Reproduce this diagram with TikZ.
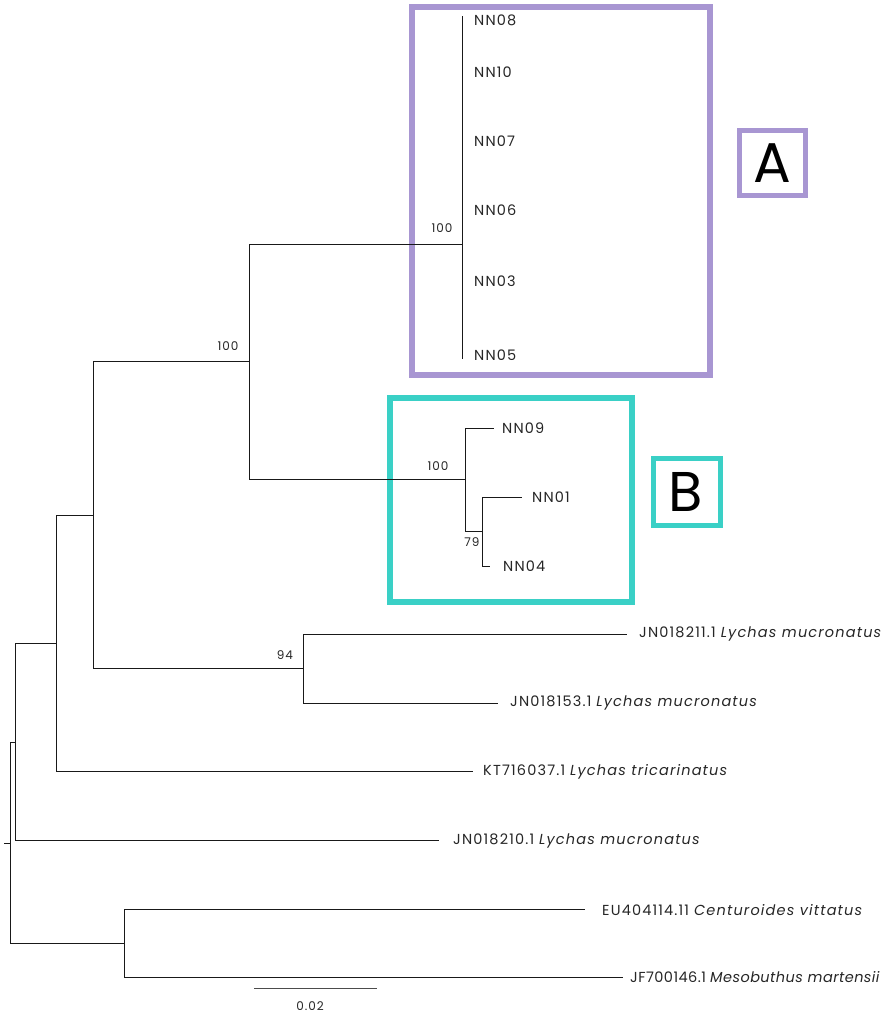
\documentclass[tikz,border=0pt]{standalone}
\usepackage{fontspec}
\setmainfont{Poppins}
\newfontfamily\leaffont[LetterSpace=8]{Poppins}
\newfontfamily\leaffontb[LetterSpace=3]{Poppins}
\definecolor{boxA}{RGB}{168,150,210}
\definecolor{boxB}{RGB}{58,208,198}
\definecolor{edge}{RGB}{25,25,25}
\tikzset{
  br/.style={draw=edge, line width=1pt},
  leaf/.style={anchor=west, inner sep=0pt, font=\leaffont\fontsize{14.5}{16}\selectfont, text=black!85},
  leafnarrow/.style={anchor=west, inner sep=0pt, font=\leaffontb\fontsize{14.5}{16}\selectfont, text=black!85},
  boot/.style={inner sep=0pt, font=\leaffont\fontsize{12}{13}\selectfont, text=black!85},
  clade/.style={line width=6pt},
  tag/.style={line width=5pt},
}
\begin{document}
\begin{tikzpicture}[x=1pt,y=-1pt]
\useasboundingbox (0,0) rectangle (888,1015);
% internal nodes
\coordinate (r) at (10.7,843);
\coordinate (r0) at (4,843);
\coordinate (n1) at (15,742);
\coordinate (n2) at (56,643);
\coordinate (n3) at (93,515);
\coordinate (n4) at (249,361);
\coordinate (nA) at (462,244);
\coordinate (nB) at (465,479);
\coordinate (n5) at (482,531);
\coordinate (n6) at (303,668);
\coordinate (n7) at (124,943);
% leaf tips
\coordinate (tA1) at (462,16);
\coordinate (tA6) at (462,359);
\coordinate (t09) at (494,428);
\coordinate (t01) at (522,497);
\coordinate (t04) at (490,566);
\coordinate (t211) at (627,634);
\coordinate (t153) at (498,703);
\coordinate (t037) at (473,771);
\coordinate (t210) at (439,840);
\coordinate (t114) at (585,909);
\coordinate (t146) at (623,977);
% boxes
\draw[boxA, clade] (412,7) rectangle (710,375);
\draw[boxB, clade] (390,398) rectangle (632,602);
\draw[boxA, tag] (739,130) rectangle (805,195);
\draw[boxB, tag] (653,458) rectangle (720,525);
\node[font=\fontsize{56}{56}\selectfont] (lA) at (772,163) {A};
\node[font=\fontsize{56}{56}\selectfont] (lB) at (686,492) {B};
% branches
\draw[br] (r0) -- (r);
\draw[br] (r) |- (n1);
\draw[br] (r) |- (n7);
\draw[br] (n1) |- (n2);
\draw[br] (n1) |- (t210);
\draw[br] (n2) |- (n3);
\draw[br] (n2) |- (t037);
\draw[br] (n3) |- (n4);
\draw[br] (n3) |- (n6);
\draw[br] (n4) |- (nA);
\draw[br] (n4) |- (nB);
\draw[br] (tA1) -- (tA6);
\draw[br] (nB) |- (t09);
\draw[br] (nB) |- (n5);
\draw[br] (n5) |- (t01);
\draw[br] (n5) |- (t04);
\draw[br] (n6) |- (t211);
\draw[br] (n6) |- (t153);
\draw[br] (n7) |- (t114);
\draw[br] (n7) |- (t146);
% leaf labels
\node[leaf] (NN08) at (474,20) {NN08};
\node[leaf] (NN10) at (474,72) {NN10};
\node[leaf] (NN07) at (474,141) {NN07};
\node[leaf] (NN06) at (474,210) {NN06};
\node[leaf] (NN03) at (474,281) {NN03};
\node[leaf] (NN05) at (474,355) {NN05};
\node[leaf] (NN09) at (502,428) {NN09};
\node[leaf] (NN01) at (532,497) {NN01};
\node[leaf] (NN04) at (503,566) {NN04};
\node[leaf] (L211) at (639,634) {JN018211.1 \textit{Lychas mucronatus}};
\node[leaf] (L153) at (510,703) {JN018153.1 \textit{Lychas mucronatus}};
\node[leaf] (L037) at (483,772) {KT716037.1 \textit{Lychas tricarinatus}};
\node[leaf] (L210) at (453,841) {JN018210.1 \textit{Lychas mucronatus}};
\node[leaf] (L114) at (602,910) {EU404114.11 \textit{Centuroides vittatus}};
\node[leafnarrow] (L146) at (630,977) {JF700146.1 \textit{Mesobuthus martensii}};
% bootstrap
\node[boot] (b1) at (228,346) {100};
\node[boot] (b2) at (442,228) {100};
\node[boot] (b3) at (438,466) {100};
\node[boot] (b4) at (472,542) {79};
\node[boot] (b5) at (285,655) {94};
% scale bar
\coordinate (s1) at (254,988);
\coordinate (s2) at (377,988);
\draw[br, draw=black!70] (s1) -- (s2);
\node[boot] (sc) at (310,1006) {0.02};
\end{tikzpicture}
\end{document}
